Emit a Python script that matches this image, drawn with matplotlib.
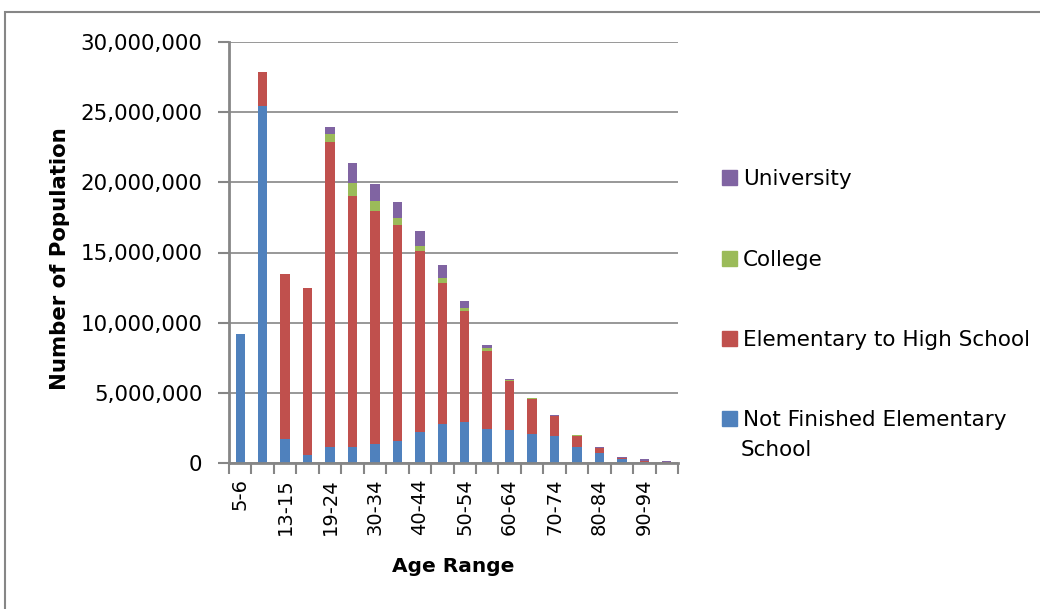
import matplotlib
matplotlib.use("Agg")
import matplotlib.pyplot as plt
from matplotlib.patches import Rectangle, Patch
from matplotlib.ticker import FuncFormatter, MultipleLocator
import numpy as np

plt.rcParams['font.family'] = ['DejaVu Sans']

# age ranges (every other label shown on the axis)
age_ranges = ['5-6', '7-12', '13-15', '16-18', '19-24', '25-29', '30-34', '35-39',
              '40-44', '45-49', '50-54', '55-59', '60-64', '65-69', '70-74', '75-79',
              '80-84', '85-89', '90-94', '95+']

# population by education level (millions)
not_finished = [9.17, 25.42, 1.69, 0.55, 1.12, 1.12, 1.35, 1.54, 2.21, 2.77,
                2.95, 2.45, 2.38, 2.09, 1.95, 1.16, 0.74, 0.31, 0.10, 0.02]
elem_to_high = [0.0, 2.42, 11.75, 11.90, 21.73, 17.88, 16.58, 15.40, 12.87, 10.09,
                7.91, 5.55, 3.49, 2.49, 1.42, 0.79, 0.35, 0.07, 0.07, 0.03]
college = [0.0, 0.0, 0.0, 0.0, 0.57, 0.93, 0.72, 0.49, 0.36, 0.29,
           0.21, 0.22, 0.07, 0.02, 0.01, 0.01, 0.01, 0.0, 0.0, 0.0]
university = [0.0, 0.0, 0.0, 0.0, 0.50, 1.42, 1.21, 1.14, 1.07, 0.93,
              0.50, 0.21, 0.07, 0.06, 0.06, 0.06, 0.06, 0.07, 0.14, 0.12]

series = [
    ('Not Finished Elementary', not_finished, '#4F81BD'),
    ('Elementary to High School', elem_to_high, '#C0504D'),
    ('College', college, '#9BBB59'),
    ('University', university, '#8064A2'),
]

fig = plt.figure(figsize=(10.4, 6.09), dpi=100)
ax = fig.add_axes([229 / 1040, 146 / 609, 449 / 1040, 421 / 609])

x = np.arange(len(age_ranges))
bottom = np.zeros(len(age_ranges))
for label, vals, color in series:
    vals = np.array(vals) * 1e6
    ax.bar(x, vals, width=0.42, bottom=bottom, color=color, label=label, zorder=3)
    bottom += vals

grey = '#868686'
ax.set_xlim(-0.5, len(age_ranges) - 0.5)
ax.set_ylim(0, 30e6)
ax.yaxis.set_major_locator(MultipleLocator(5e6))
ax.yaxis.set_major_formatter(FuncFormatter(lambda v, p: f'{int(v):,}'))
ax.grid(axis='y', color=grey, linewidth=1.2, zorder=0)

ax.set_xticks(x[::2])
ax.set_xticklabels(age_ranges[::2], rotation=90)
ax.set_xticks(np.arange(len(age_ranges) + 1) - 0.5, minor=True)
ax.tick_params(axis='x', which='major', length=0, labelsize=14, pad=11)
ax.tick_params(axis='x', which='minor', length=8, width=1.5, color=grey)
ax.tick_params(axis='y', length=8, width=1.5, color=grey, labelsize=15.4, pad=11)

for side in ['top', 'right']:
    ax.spines[side].set_visible(False)
for side in ['left', 'bottom']:
    ax.spines[side].set_color(grey)
    ax.spines[side].set_linewidth(2)
    ax.spines[side].set_zorder(4)

ax.set_ylabel('Number of Population', fontsize=15.3, fontweight='bold', va='center')
ax.yaxis.set_label_coords(-0.376, 0.485)
ax.set_xlabel('Age Range', fontsize=14.5, fontweight='bold', labelpad=16)

handles = [Patch(color=c) for _, _, c in series][::-1]
labels = [l for l, _, _ in series][::-1]
fig.legend(handles, labels, loc='upper left', bbox_to_anchor=(703 / 1040, 1 - 150 / 609),
           frameon=False, fontsize=15.5, handlelength=0.7, handleheight=0.7,
           handletextpad=0.25, labelspacing=2.8)
# second line of the last legend label
fig.text(741 / 1040, 1 - 450 / 609, 'School', fontsize=15.5, va='center', ha='left')

# outer chart frame
fig.add_artist(Rectangle((5 / 1040, -0.1), 1.2, 1 - 12 / 609 + 0.1,
                         transform=fig.transFigure, fill=False,
                         edgecolor=grey, linewidth=1.5))

fig.savefig('out.png', dpi=100)
